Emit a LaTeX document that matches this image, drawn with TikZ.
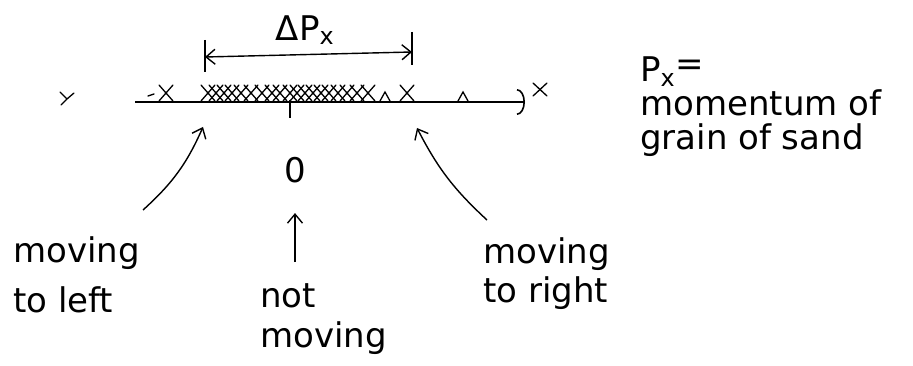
\documentclass[tikz,border=0pt]{standalone}
\usepackage{fontspec}
\setmainfont{DejaVu Sans}
\usetikzlibrary{arrows.meta,positioning,calc}

\begin{document}
\begin{tikzpicture}[x=1pt, y=-1pt,
    >={Straight Barb[length=9pt,width=15pt]},
    hand/.style={font=\fontsize{34}{#1}\selectfont, align=left, inner sep=0pt},
    hand/.default=40,
    arr/.style={line width=1.4pt, ->},
    grain/.style={line width=1.3pt, line cap=round}
]
    \useasboundingbox (0,0) rectangle (913,366);

    % momentum axis
    \coordinate (axl) at (135,102);
    \coordinate (axr) at (525,102);
    \draw[line width=1.6pt, -{Arc Barb[length=8pt,width=26pt]}] (axl) -- (axr);
    \draw[line width=1.4pt] (290,100) -- (290,118);

    % grains of sand on the axis
    \foreach \g in {166,208,216,224,232,241,251,262,272,280,290,297,305,313,321,329,338,347,357,368,407}
        \draw[grain] (\g-7,85) -- (\g+7,101) (\g+7,85) -- (\g-7,101);
    \foreach \g in {385,463}
        \draw[grain] (\g-5,101) -- (\g,92) -- (\g+5,101);
    \draw[grain] (148,96) -- (154,94);
    \draw[grain] (60,92) -- (67,99) -- (61,105) (67,99) -- (74,93);
    \draw[grain] (533,83) -- (547,96) (547,83) -- (533,96);

    % spread of momentum
    \node[hand] (dp) at (305,30) {ΔP\textsubscript{x}};
    \coordinate (bl) at (205,57);
    \coordinate (br) at (412,52);
    \draw[line width=1.4pt] (205,40) -- (205,72) (412,32) -- (412,65);
    \draw[line width=1.4pt, <->] (bl) -- (br);

    % zero momentum
    \node[hand] (zero) at (295,170) {0};
    \node[hand=40, anchor=north west] (still) at (260,283) {not\\moving};
    \draw[arr] ([yshift=-79pt]zero.south) -- ([yshift=-30pt]zero.south);

    % moving left / right
    \node[hand=50, anchor=north west] (left) at (13,236) {moving\\to left};
    \node[hand=39, anchor=north west] (right) at (483,237) {moving\\to right};
    \coordinate (lt) at (203,127);
    \coordinate (rt) at (417,128);
    \draw[arr] ([shift={(130pt,26pt)}]left.north west) to[bend right=12] (lt);
    \draw[arr] ([shift={(4pt,17pt)}]right.north west) to[bend left=10] (rt);

    % definition
    \node[hand=34, anchor=north west] (def) at (640,57) {P\textsubscript{x}\raisebox{.35ex}{=}\\momentum of\\grain of sand};
\end{tikzpicture}
\end{document}
